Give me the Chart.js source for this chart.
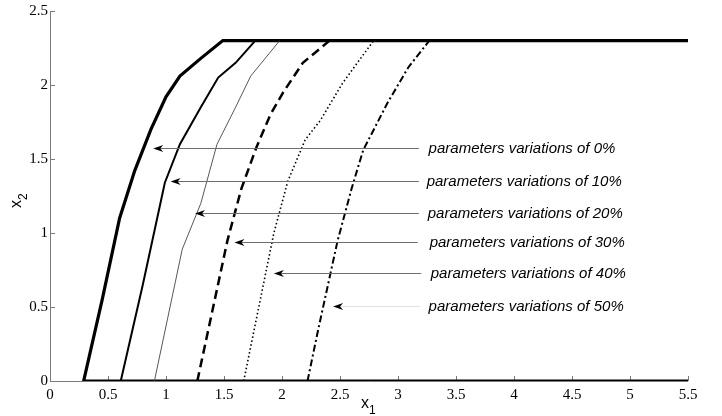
<!DOCTYPE html>
<html>
<head>
<meta charset="utf-8">
<script src="https://cdn.jsdelivr.net/npm/chart.js@4.4.1/dist/chart.umd.min.js"></script>
<style>
  html, body { margin: 0; padding: 0; background: #ffffff; }
</style>
</head>
<body>
<canvas id="myChart" width="722" height="416"></canvas>
<script>
// axis ticks
const xTicks = [0, 0.5, 1, 1.5, 2, 2.5, 3, 3.5, 4, 4.5, 5, 5.5];
const yTicks = [0, 0.5, 1, 1.5, 2, 2.5];

// boundary curves
const x0 = [5.5, 0.29, 0.45, 0.6, 0.73, 0.87, 1.0, 1.12, 1.3, 1.49, 5.5];
const y0 = [0, 0, 0.55, 1.1, 1.42, 1.7, 1.92, 2.06, 2.18, 2.3, 2.3];
const x10 = [0.61, 0.8, 0.99, 1.12, 1.3, 1.45, 1.6, 1.77];
const y10 = [0, 0.65, 1.34, 1.6, 1.85, 2.05, 2.15, 2.3];
const x20 = [0.9, 1.14, 1.3, 1.44, 1.6, 1.73, 1.98];
const y20 = [0, 0.89, 1.2, 1.6, 1.85, 2.06, 2.3];
const x30 = [1.27, 1.53, 1.65, 1.78, 1.9, 2.01, 2.18, 2.41];
const y30 = [0, 0.95, 1.3, 1.58, 1.8, 1.95, 2.15, 2.3];
const x40 = [1.67, 1.8, 1.93, 2.05, 2.2, 2.33, 2.52, 2.65, 2.79];
const y40 = [0, 0.5, 1.0, 1.35, 1.63, 1.76, 2.01, 2.15, 2.3];
const x50 = [2.22, 2.31, 2.48, 2.6, 2.7, 2.91, 3.09, 3.27];
const y50 = [0, 0.34, 0.95, 1.3, 1.56, 1.88, 2.12, 2.3];

// annotations (arrow tip, arrow tail, text start) in data units
const noteLabels = ['parameters variations of 0%', 'parameters variations of 10%',
  'parameters variations of 20%', 'parameters variations of 30%',
  'parameters variations of 40%', 'parameters variations of 50%'];
const noteY = [1.574, 1.351, 1.135, 0.939, 0.730, 0.507];
const noteTipX = [0.89, 1.04, 1.25, 1.59, 1.93, 2.44];
const noteEndX = [3.18, 3.18, 3.18, 3.17, 3.20, 3.19];
const noteTextX = [3.264, 3.247, 3.256, 3.273, 3.282, 3.264];

function pts(xs, ys) {
  return xs.map((x, k) => ({ x: x, y: ys[k] }));
}

const serif = "'Liberation Serif', 'Times New Roman', serif";

const axesPlugin = {
  id: 'axesPlugin',
  beforeDatasetsDraw(chart) {
    const ctx = chart.ctx;
    const a = chart.chartArea;
    const sx = chart.scales.x, sy = chart.scales.y;
    ctx.save();
    ctx.strokeStyle = '#7a7a7a';
    ctx.lineWidth = 1;
    ctx.beginPath();
    ctx.moveTo(a.left + 0.5, a.top);
    ctx.lineTo(a.left + 0.5, a.bottom + 0.5);
    ctx.lineTo(a.right, a.bottom + 0.5);
    for (const v of xTicks) {
      const px = Math.round(sx.getPixelForValue(v)) + 0.5;
      ctx.moveTo(px, a.bottom);
      ctx.lineTo(px, a.bottom - 5);
    }
    for (const v of yTicks) {
      const py = Math.round(sy.getPixelForValue(v)) + 0.5;
      ctx.moveTo(a.left, py);
      ctx.lineTo(a.left + 5, py);
    }
    ctx.stroke();
    ctx.restore();
  },
  afterDatasetsDraw(chart) {
    const ctx = chart.ctx;
    const a = chart.chartArea;
    const sx = chart.scales.x, sy = chart.scales.y;
    ctx.save();
    for (let i = 0; i < noteLabels.length; i++) {
      const py = Math.round(sy.getPixelForValue(noteY[i])) + 0.5;
      const tip = sx.getPixelForValue(noteTipX[i]);
      const end = sx.getPixelForValue(noteEndX[i]);
      ctx.strokeStyle = i === 5 ? '#e2e2e2' : '#6e6e6e';
      ctx.lineWidth = 1;
      ctx.beginPath();
      ctx.moveTo(tip + 6, py);
      ctx.lineTo(end, py);
      ctx.stroke();
      ctx.fillStyle = '#000000';
      ctx.beginPath();
      ctx.moveTo(tip, py);
      ctx.lineTo(tip + 10, py - 3.5);
      ctx.lineTo(tip + 7, py);
      ctx.lineTo(tip + 10, py + 3.5);
      ctx.closePath();
      ctx.fill();
      ctx.font = "italic 15px 'Liberation Sans', Arial, sans-serif";
      ctx.textAlign = 'left';
      ctx.textBaseline = 'middle';
      ctx.fillText(noteLabels[i], sx.getPixelForValue(noteTextX[i]), py);
    }
    // axis titles with subscripts
    ctx.fillStyle = '#000000';
    ctx.textBaseline = 'alphabetic';
    ctx.textAlign = 'left';
    const cx = (a.left + a.right) / 2;
    ctx.font = "16px 'Liberation Sans', Arial, sans-serif";
    ctx.fillText('x', cx - 8, 408);
    ctx.font = "12px 'Liberation Sans', Arial, sans-serif";
    ctx.fillText('1', cx, 414);
    const cy = (a.top + a.bottom) / 2;
    ctx.translate(21, cy + 12);
    ctx.rotate(-Math.PI / 2);
    ctx.font = "16px 'Liberation Sans', Arial, sans-serif";
    ctx.fillText('x', 0, 0);
    ctx.font = "12px 'Liberation Sans', Arial, sans-serif";
    ctx.fillText('2', 8, 6);
    ctx.restore();
  }
};

Chart.defaults.font.family = serif;
Chart.defaults.font.size = 15;
Chart.defaults.color = '#000000';

const ctx = document.getElementById('myChart');
const chart = new Chart(ctx, {
  type: 'line',
  data: {
    datasets: [
      { label: '50%', data: pts(x50, y50), borderColor: '#000', borderWidth: 2, borderDash: [7, 3, 2, 3] },
      { label: '40%', data: pts(x40, y40), borderColor: '#000', borderWidth: 1.6, borderDash: [1.5, 2.5] },
      { label: '30%', data: pts(x30, y30), borderColor: '#000', borderWidth: 2.5, borderDash: [9, 5] },
      { label: '20%', data: pts(x20, y20), borderColor: '#444', borderWidth: 0.9 },
      { label: '10%', data: pts(x10, y10), borderColor: '#000', borderWidth: 2 },
      { label: '0%', data: pts(x0, y0), borderColor: '#000', borderWidth: 3.2 }
    ]
  },
  options: {
    responsive: false,
    animation: false,
    devicePixelRatio: 1,
    layout: { padding: { top: 11, right: 34, left: 0, bottom: 0 } },
    elements: {
      point: { radius: 0, hoverRadius: 0 },
      line: { tension: 0, fill: false, borderCapStyle: 'butt', borderJoinStyle: 'miter' }
    },
    plugins: { legend: { display: false }, tooltip: { enabled: false } },
    scales: {
      x: {
        type: 'linear',
        min: 0,
        max: 5.5,
        afterBuildTicks: s => { s.ticks = xTicks.map(v => ({ value: v })); },
        afterFit: s => { s.height = 35; },
        grid: { display: false, drawTicks: false },
        border: { display: false },
        ticks: { font: { family: serif, size: 15 }, color: '#000', padding: 5, maxRotation: 0, autoSkip: false,
          callback: v => String(v) }
      },
      y: {
        type: 'linear',
        min: 0,
        max: 2.5,
        afterBuildTicks: s => { s.ticks = yTicks.map(v => ({ value: v })); },
        afterFit: s => { s.width = 50; },
        grid: { display: false, drawTicks: false },
        border: { display: false },
        ticks: { font: { family: serif, size: 15 }, color: '#000', padding: 2, callback: v => String(v) }
      }
    }
  },
  plugins: [axesPlugin]
});
</script>
</body>
</html>
